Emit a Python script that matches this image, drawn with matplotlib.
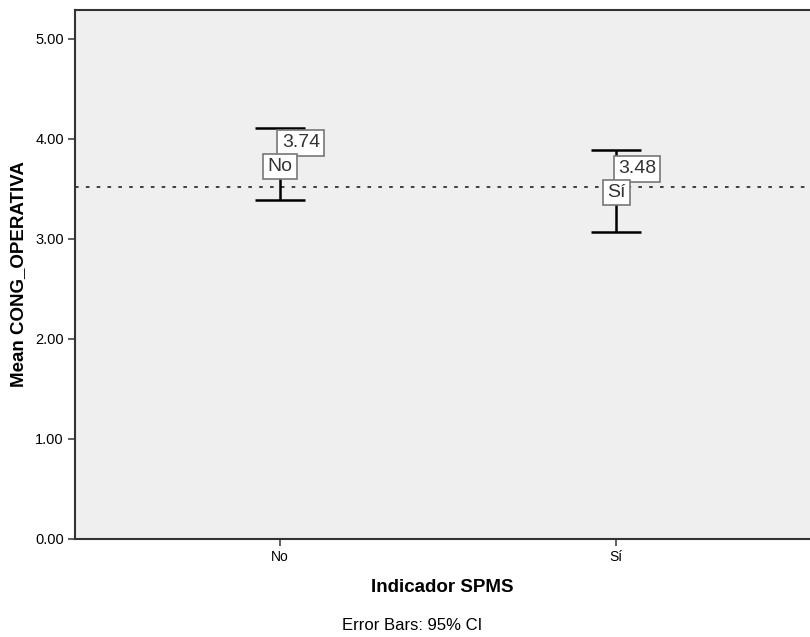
import matplotlib.pyplot as plt
import numpy as np

plt.rcParams['font.family'] = ['Liberation Sans', 'DejaVu Sans']

# data
categories = ['No', 'Sí']
means = [3.74, 3.48]
ci_low = [3.39, 3.07]
ci_high = [4.11, 3.89]
mean_labels = ['3.74', '3.48']
grand_mean = 3.52

fig = plt.figure(figsize=(8.10, 6.37), dpi=100)
ax = fig.add_axes([75/810., 1 - 539/637., (810 - 75)/810., (539 - 10)/637.])
ax.set_facecolor('#efefef')

x = np.arange(len(categories))
means = np.array(means)
yerr = [means - np.array(ci_low), np.array(ci_high) - means]

# error bars (95% CI)
ax.errorbar(x, means, yerr=yerr, fmt='none', ecolor='black', elinewidth=1.8,
            capsize=18, capthick=1.8, zorder=3)

# reference line
ax.axhline(grand_mean, color='#333333', linestyle=(0, (2, 4)), linewidth=1.3, zorder=2)

# category and value labels at each mean
box = dict(boxstyle='square,pad=0.22', fc='white', ec='#777777', lw=1.2)
for xi, m, cat, lab in zip(x, means, categories, mean_labels):
    ax.annotate(lab, (xi, m), xytext=(15, 16), textcoords='offset points',
                fontsize=14, ha='center', va='center', color='#333333',
                bbox=box, zorder=4)
    ax.annotate(cat, (xi, m), xytext=(0, -1), textcoords='offset points',
                fontsize=14, ha='center', va='center', color='#333333',
                bbox=box, zorder=5)

ax.set_xlim(-0.61, 1.577)
ax.set_ylim(0, 5.29)
ax.set_xticks(x)
ax.set_xticklabels(categories, fontsize=10)
ax.set_yticks(np.arange(0, 6, 1))
ax.set_yticklabels(['%.2f' % v for v in np.arange(0, 6, 1)], fontsize=10.5)
ax.tick_params(axis='both', direction='out', length=5, width=1.2, color='#444444', pad=3)

for side in ['left', 'bottom', 'top']:
    ax.spines[side].set_linewidth(1.5)
    ax.spines[side].set_color('#333333')
ax.spines['right'].set_visible(False)

ax.set_ylabel('Mean CONG_OPERATIVA', fontsize=13.5, fontweight='bold', labelpad=6)
ax.set_xlabel('Indicador SPMS', fontsize=13.5, fontweight='bold', labelpad=11)

fig.text(412/810., 1 - 625/637., 'Error Bars: 95% CI', ha='center', va='center', fontsize=12)

fig.savefig('out.png', dpi=100)
